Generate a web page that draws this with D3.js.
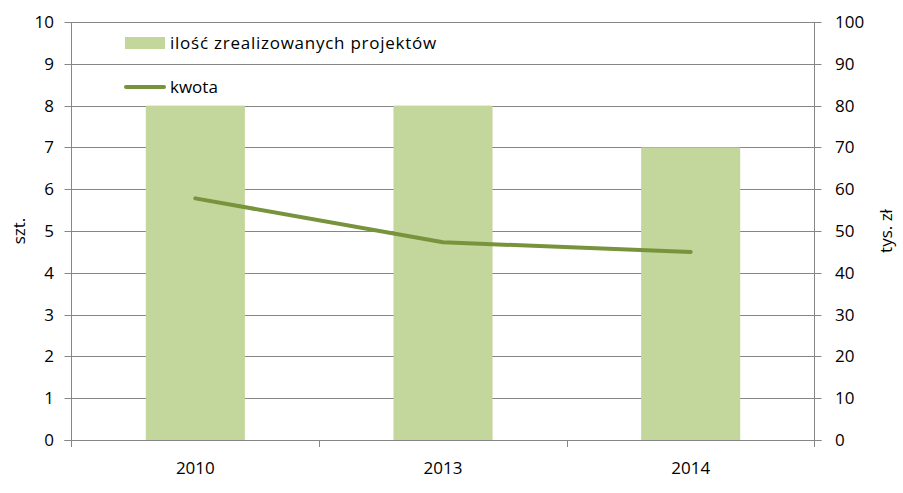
<!DOCTYPE html>
<html><head><meta charset="utf-8">
<script src="https://cdn.jsdelivr.net/npm/d3@7"></script>
<style>body{margin:0;background:#fff}text{font-family:"Open Sans","Liberation Sans",sans-serif;fill:#000}</style>
</head><body><svg id="c" width="903" height="493"></svg>
<script>
const categories = ["2010","2013","2014"];
const barValues = [8, 8, 7];
const lineValues = [57.8, 47.3, 45.0];
const leftTicks = [0,1,2,3,4,5,6,7,8,9,10];
const rightTicks = [0,10,20,30,40,50,60,70,80,90,100];
const barName = "ilość zrealizowanych projektów";
const lineName = "kwota";

const svg = d3.select("#c");
const L = 71.5, R = 814.5, T = 22, B = 440;
const x = d3.scaleBand().domain(categories).range([L, R]).paddingInner(0.6).paddingOuter(0.3);
const xc = d3.scaleBand().domain(categories).range([L, R]);
const yL = d3.scaleLinear().domain([0,10]).range([B, T]);
const yR = d3.scaleLinear().domain([0,100]).range([B, T]);
const grid = "#868686";

// gridlines
svg.append("g").selectAll("line").data(leftTicks).join("line")
  .attr("x1", L-7).attr("x2", R+7)
  .attr("y1", d => Math.round(yL(d))+0.5).attr("y2", d => Math.round(yL(d))+0.5)
  .attr("stroke", grid).attr("stroke-width", 1);
// left & right axis lines
svg.append("line").attr("x1", L).attr("x2", L).attr("y1", T).attr("y2", B+7).attr("stroke", grid);
svg.append("line").attr("x1", R).attr("x2", R).attr("y1", T).attr("y2", B+7).attr("stroke", grid);
// category ticks
svg.append("g").selectAll("line").data(categories.slice(1)).join("line")
  .attr("x1", d => Math.round(xc(d))+0.5).attr("x2", d => Math.round(xc(d))+0.5)
  .attr("y1", B).attr("y2", B+7).attr("stroke", grid);

// bars
svg.append("g").selectAll("rect").data(categories).join("rect")
  .attr("x", d => x(d)).attr("width", x.bandwidth())
  .attr("y", (d,i) => yL(barValues[i])).attr("height", (d,i) => B - yL(barValues[i]))
  .attr("fill", "#C3D69B");
// redraw baseline over bars
svg.append("line").attr("x1", L-7).attr("x2", R+7).attr("y1", B+0.5).attr("y2", B+0.5).attr("stroke", grid);

// line
const line = d3.line().x((d,i) => xc(categories[i]) + xc.bandwidth()/2).y(d => yR(d));
svg.append("path").datum(lineValues).attr("d", line)
  .attr("fill", "none").attr("stroke", "#77933C").attr("stroke-width", 4).attr("stroke-linecap", "round").attr("stroke-linejoin","round");

// left tick labels
svg.append("g").selectAll("text").data(leftTicks).join("text")
  .attr("x", 54).attr("y", d => yL(d)).attr("dy", "0.35em")
  .attr("text-anchor", "end").attr("font-size", 17).text(d => d);
// right tick labels
svg.append("g").selectAll("text").data(rightTicks).join("text")
  .attr("x", 835).attr("y", d => yR(d)).attr("dy", "0.35em")
  .attr("text-anchor", "start").attr("font-size", 17).text(d => d);
// category labels
svg.append("g").selectAll("text").data(categories).join("text")
  .attr("x", d => xc(d) + xc.bandwidth()/2).attr("y", 468).attr("dy", "0.35em")
  .attr("text-anchor", "middle").attr("font-size", 17).text(d => d);

// axis titles
svg.append("text").attr("transform", "translate(19,231) rotate(-90)").attr("dy","0.35em")
  .attr("text-anchor","middle").attr("font-size", 17).text("szt.");
svg.append("text").attr("transform", "translate(886,231) rotate(-90)").attr("dy","0.35em")
  .attr("text-anchor","middle").attr("font-size", 17).text("tys. zł");

// legend
svg.append("rect").attr("x", 125).attr("y", 37).attr("width", 40).attr("height", 12).attr("fill", "#C3D69B");
svg.append("text").attr("x", 170).attr("y", 43).attr("dy","0.35em").attr("font-size", 17)
  .attr("letter-spacing", 0.75).text(barName);
svg.append("line").attr("x1", 126).attr("x2", 164).attr("y1", 87).attr("y2", 87)
  .attr("stroke", "#77933C").attr("stroke-width", 4).attr("stroke-linecap","round");
svg.append("text").attr("x", 170).attr("y", 87).attr("dy","0.35em").attr("font-size", 17).text(lineName);
</script></body></html>
